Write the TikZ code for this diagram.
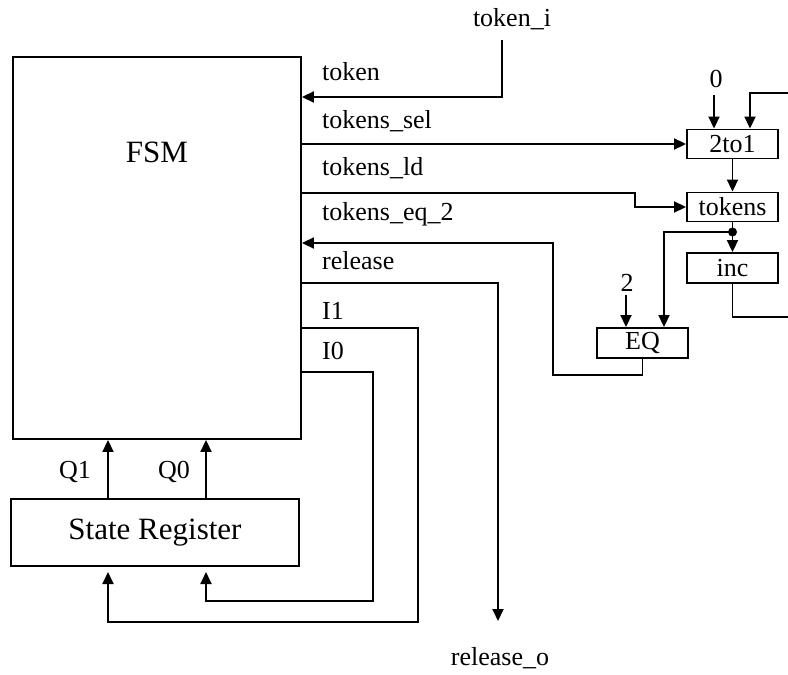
\documentclass[tikz,border=0pt]{standalone}
\usepackage{fontspec}
\setmainfont{Liberation Serif}
\usetikzlibrary{arrows.meta}
\begin{document}
\begin{tikzpicture}[x=1pt,y=-1pt,
  wire/.style={line width=1.9pt},
  arr/.style={wire,-{Triangle[length=12pt,width=11pt]}},
  box/.style={draw,line width=1.9pt,inner sep=0pt,font=\fontsize{26}{30}\selectfont},
  lbl/.style={inner sep=0pt,anchor=base west,font=\fontsize{26}{30}\selectfont},
  clbl/.style={inner sep=0pt,anchor=base,font=\fontsize{26}{30}\selectfont}]
\useasboundingbox (0,0) rectangle (788,675);
% blocks
\node[box,minimum width=288pt,minimum height=382pt] (fsm) at (157,248) {};
\node[inner sep=0pt,anchor=base,font=\fontsize{31}{36}\selectfont] (fsmt) at (157,162) {FSM};
\node[box,minimum width=288pt,minimum height=67pt,font=\fontsize{31}{36}\selectfont] (sr) at (155,532.5) {State Register};
\node[box,minimum width=91pt,minimum height=29pt] (mux) at (732.5,144) {2to1};
\node[box,minimum width=91pt,minimum height=29pt] (tok) at (732.5,207) {tokens};
\node[box,minimum width=91pt,minimum height=30pt] (inc) at (732.5,268) {inc};
\node[box,minimum width=91pt,minimum height=30pt] (eq) at (642.5,343) {EQ};
% labels
\node[lbl] (l1) at (322,80) {token};
\node[lbl] (l2) at (322,128) {tokens\_sel};
\node[lbl] (l3) at (322,175) {tokens\_ld};
\node[lbl] (l4) at (322,220) {tokens\_eq\_2};
\node[lbl] (l5) at (322,269) {release};
\node[lbl] (l6) at (322,319) {I1};
\node[lbl] (l7) at (322,359) {I0};
\node[lbl] (lq1) at (59,478) {Q1};
\node[lbl] (lq0) at (158,478) {Q0};
\node[clbl] (ti) at (512,26) {token\_i};
\node[clbl] (ro) at (500,665) {release\_o};
\node[clbl] (zero) at (716,87) {0};
\node[clbl] (two) at (627,291) {2};
% free ends
\coordinate (tiw) at (502,40);
\coordinate (zw) at (714,95);
\coordinate (tw) at (626,295);
\coordinate (rotip) at (498,621);
\coordinate (d) at (732.5,232);
\coordinate (re1) at (792,317);
\coordinate (re2) at (792,93);
% connectors
\draw[arr] (tiw) -- (502,97) -- (fsm.east |- 0,97);
\draw[arr] (fsm.east |- 0,144) -- (mux.west);
\draw[arr] (fsm.east |- 0,193) -- (635,193) |- (tok.west);
\draw[arr] (mux.south) -- (tok.north);
\draw[arr] (zw) -- (zw |- mux.north);
\draw[arr] (re2) -- (750,93) -- (750,93 |- mux.north);
\draw[wire] (inc.south) -- (732.5,317) -- (re1);
\draw[wire] (tok.south) -- (d);
\draw[arr] (d) -- (inc.north);
\draw[arr] (d) -| (664,300 |- eq.north);
\fill (d) circle (4.5pt);
\draw[arr] (tw) -- (tw |- eq.north);
\draw[arr] (eq.south) -- (642.5,375) -- (553,375) -- (553,243) -- (fsm.east |- 0,243);
\draw[arr] (fsm.east |- 0,283) -| (rotip);
\draw[arr] (fsm.east |- 0,328) -| (418,622) -| (108,572);
\draw[arr] (fsm.east |- 0,372) -| (373,601) -| (206,572);
\draw[arr] (sr.north -| 108,0) -- (fsm.south -| 108,0);
\draw[arr] (sr.north -| 206,0) -- (fsm.south -| 206,0);
\end{tikzpicture}
\end{document}
